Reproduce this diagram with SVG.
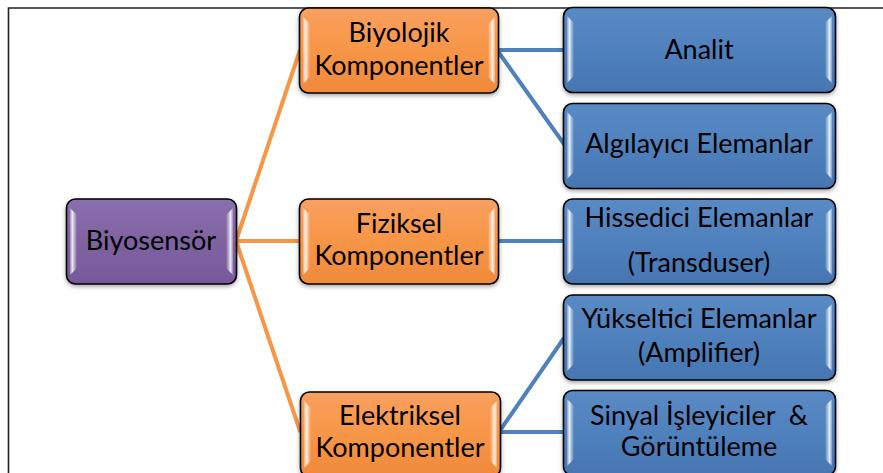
<svg xmlns="http://www.w3.org/2000/svg" width="883" height="473" viewBox="0 0 883 473">
<style>
.box{stroke:#000;stroke-width:1.6}
.purple{fill:url(#gPurple)}
.orange{fill:url(#gOrange)}
.blue{fill:url(#gBlue)}
.hl{fill:url(#hlL)}
.hr{fill:url(#hlR)}
.t{font-family:"Lato","Open Sans","Liberation Sans",sans-serif;font-size:27px;fill:#000;text-anchor:middle}
.co{stroke:#F79646;stroke-width:4;fill:none;stroke-linecap:round}
.cb{stroke:#4F81BD;stroke-width:4;fill:none;stroke-linecap:round}
</style>
<defs>
<linearGradient id="gPurple" x1="0" y1="0" x2="0" y2="1"><stop offset="0" stop-color="#8A6FAE"/><stop offset="0.5" stop-color="#7F63A1"/><stop offset="1" stop-color="#76599A"/></linearGradient>
<linearGradient id="gOrange" x1="0" y1="0" x2="0" y2="1"><stop offset="0" stop-color="#F9A060"/><stop offset="0.5" stop-color="#F79646"/><stop offset="1" stop-color="#F0893A"/></linearGradient>
<linearGradient id="gBlue" x1="0" y1="0" x2="0" y2="1"><stop offset="0" stop-color="#5A8AC4"/><stop offset="0.5" stop-color="#4F81BD"/><stop offset="1" stop-color="#4676B2"/></linearGradient>
<linearGradient id="hlL" x1="0" y1="0" x2="1" y2="0"><stop offset="0" stop-color="#fff" stop-opacity="0.25"/><stop offset="0.35" stop-color="#fff" stop-opacity="0.85"/><stop offset="1" stop-color="#fff" stop-opacity="0"/></linearGradient>
<linearGradient id="hlR" x1="1" y1="0" x2="0" y2="0"><stop offset="0" stop-color="#fff" stop-opacity="0.25"/><stop offset="0.35" stop-color="#fff" stop-opacity="0.85"/><stop offset="1" stop-color="#fff" stop-opacity="0"/></linearGradient>
<filter id="sh" x="-10%" y="-10%" width="120%" height="130%"><feDropShadow dx="0" dy="2" stdDeviation="2" flood-color="#000" flood-opacity="0.35"/></filter>
</defs>

<g id="frame" stroke="#222" stroke-width="1.6" fill="none">
<path d="M883 8 H8.5 V473"/>
</g>

<g id="connectors">
<line class="co" x1="236" y1="241" x2="300" y2="50"/>
<line class="co" x1="236" y1="241" x2="300" y2="241"/>
<line class="co" x1="236" y1="241" x2="300" y2="431"/>
<line class="cb" x1="497" y1="50" x2="564" y2="50"/>
<line class="cb" x1="497" y1="50" x2="564" y2="144"/>
<line class="cb" x1="497" y1="241" x2="564" y2="241"/>
<line class="cb" x1="499" y1="432" x2="564" y2="338"/>
<line class="cb" x1="499" y1="432" x2="564" y2="432"/>
</g>

<g id="n-biyosensor">
<rect class="box purple" x="66.5" y="199" width="170" height="85" rx="9" filter="url(#sh)"/>
<polygon class="hl" points="70,208 77,215 77,268 70,275"/>
<polygon class="hr" points="233,208 226,215 226,268 233,275"/>
<text class="t" x="151" y="250">Biyosensör</text>
</g>

<g id="n-biyolojik">
<rect class="box orange" x="299.5" y="8" width="199" height="85" rx="9" filter="url(#sh)"/>
<polygon class="hl" points="303,17 310,24 310,77 303,84"/>
<polygon class="hr" points="495,17 488,24 488,77 495,84"/>
<text class="t" x="399" y="42">Biyolojik</text>
<text class="t" x="399" y="75">Komponentler</text>
</g>

<g id="n-fiziksel">
<rect class="box orange" x="299.5" y="199" width="199" height="85" rx="9" filter="url(#sh)"/>
<polygon class="hl" points="303,208 310,215 310,268 303,275"/>
<polygon class="hr" points="495,208 488,215 488,268 495,275"/>
<text class="t" x="399" y="233">Fiziksel</text>
<text class="t" x="399" y="265">Komponentler</text>
</g>

<g id="n-elektriksel">
<rect class="box orange" x="300.5" y="392" width="200" height="85" rx="9" filter="url(#sh)"/>
<polygon class="hl" points="304,401 311,408 311,461 304,468"/>
<polygon class="hr" points="497,401 490,408 490,461 497,468"/>
<text class="t" x="400" y="425">Elektriksel</text>
<text class="t" x="400" y="457">Komponentler</text>
</g>

<g id="n-analit">
<rect class="box blue" x="563.5" y="7.5" width="272" height="85" rx="9" filter="url(#sh)"/>
<polygon class="hl" points="567,16 574,23 574,76 567,83"/>
<polygon class="hr" points="832,16 825,23 825,76 832,83"/>
<text class="t" x="699" y="59">Analit</text>
</g>

<g id="n-algilayici">
<rect class="box blue" x="563.5" y="103.5" width="272" height="85" rx="9" filter="url(#sh)"/>
<polygon class="hl" points="567,112 574,119 574,172 567,179"/>
<polygon class="hr" points="832,112 825,119 825,172 832,179"/>
<text class="t" x="699" y="153">Algılayıcı Elemanlar</text>
</g>

<g id="n-hissedici">
<rect class="box blue" x="563.5" y="199" width="272" height="85" rx="9" filter="url(#sh)"/>
<polygon class="hl" points="567,208 574,215 574,268 567,275"/>
<polygon class="hr" points="832,208 825,215 825,268 832,275"/>
<text class="t" x="699" y="227">Hissedici Elemanlar</text>
<text class="t" x="699" y="272">(Transduser)</text>
</g>

<g id="n-yukseltici">
<rect class="box blue" x="563.5" y="295" width="272" height="85" rx="9" filter="url(#sh)"/>
<polygon class="hl" points="567,304 574,311 574,364 567,371"/>
<polygon class="hr" points="832,304 825,311 825,364 832,371"/>
<text class="t" x="699" y="328">Yükseltici Elemanlar</text>
<text class="t" x="699" y="362">(Amplifier)</text>
</g>

<g id="n-sinyal">
<rect class="box blue" x="563.5" y="390.5" width="272" height="85" rx="9" filter="url(#sh)"/>
<polygon class="hl" points="567,399 574,406 574,459 567,466"/>
<polygon class="hr" points="832,399 825,406 825,459 832,466"/>
<text class="t" x="699" y="425" xml:space="preserve">Sinyal İşleyiciler  &amp;</text>
<text class="t" x="699" y="456">Görüntüleme</text>
</g>
</svg>
